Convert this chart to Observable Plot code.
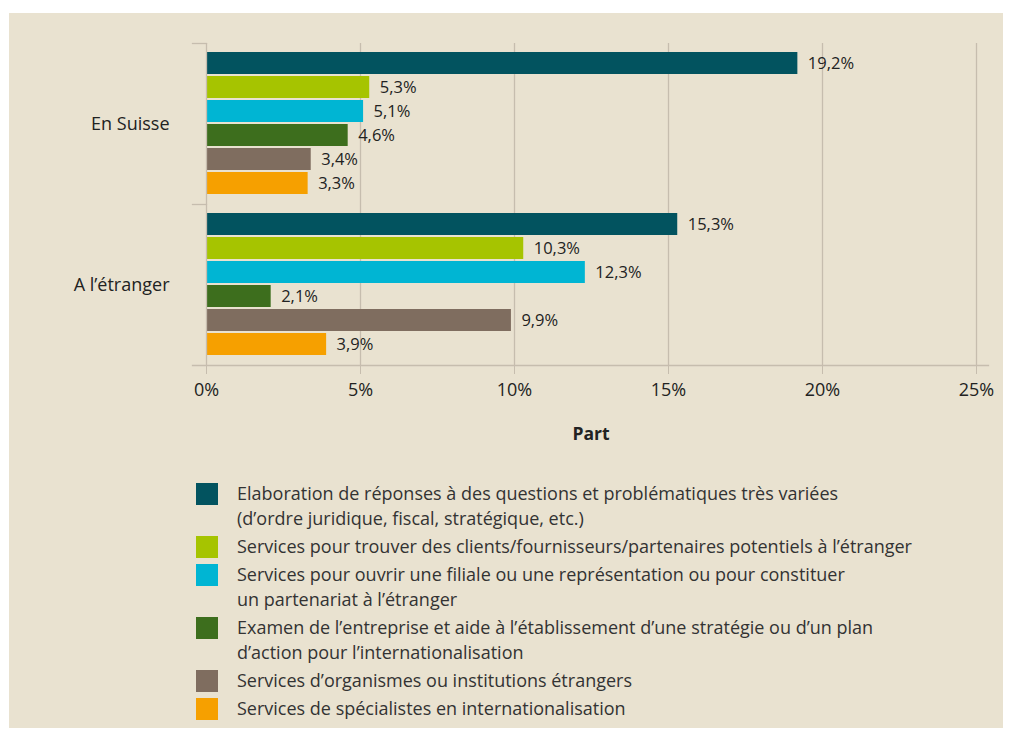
<!DOCTYPE html>
<html><head><meta charset="utf-8">
<script src="https://cdn.jsdelivr.net/npm/d3@7"></script>
<script src="https://cdn.jsdelivr.net/npm/@observablehq/plot@0.6"></script>
<style>
html,body{margin:0;padding:0;background:#fff;width:1014px;height:740px;overflow:hidden;font-family:"Open Sans",sans-serif;}
#panel{position:absolute;left:9px;top:13px;width:994px;height:715px;background:#e9e2d0;}
#chart{position:absolute;left:0;top:0;}
#xlabel{position:absolute;left:491px;width:200px;top:421px;text-align:center;font-weight:bold;font-size:17.5px;color:#222;}
#legend{position:absolute;left:196px;top:481px;color:#333;font-size:18px;line-height:25px;}
.item{display:flex;align-items:flex-start;margin-bottom:3px;}
.sw{width:22px;height:22px;flex:none;margin-right:19px;margin-top:2px;}
</style></head>
<body>
<div id="panel"></div>
<div id="chart"></div>
<div id="xlabel">Part</div>
<div id="legend"></div>
<script>
const groups = ["En Suisse", "A l\u2019étranger"];
const series = [
  "Elaboration de réponses à des questions et problématiques très variées<br>(d\u2019ordre juridique, fiscal, stratégique, etc.)",
  "Services pour trouver des clients/fournisseurs/partenaires potentiels à l\u2019étranger",
  "Services pour ouvrir une filiale ou une représentation ou pour constituer<br>un partenariat à l\u2019étranger",
  "Examen de l\u2019entreprise et aide à l\u2019établissement d\u2019une stratégie ou d\u2019un plan<br>d\u2019action pour l\u2019internationalisation",
  "Services d\u2019organismes ou institutions étrangers",
  "Services de spécialistes en internationalisation"
];
const colors = ["#02535f", "#a6c400", "#00b5d3", "#3d6e1d", "#7f6d5f", "#f6a000"];
const valuesSuisse = [19.2, 5.3, 5.1, 4.6, 3.4, 3.3];
const valuesEtranger = [15.3, 10.3, 12.3, 2.1, 9.9, 3.9];
const xTicks = [0, 5, 10, 15, 20, 25];

const seriesKeys = series.map((s, i) => "s" + i);
const data = [];
[valuesSuisse, valuesEtranger].forEach((vals, g) => {
  vals.forEach((v, i) => data.push({group: groups[g], series: seriesKeys[i], value: v}));
});
const fmt = v => v.toFixed(1).replace(".", ",") + "%";

const grid = "#c6bdae";
const chart = Plot.plot({
  width: 1014,
  height: 450,
  marginLeft: 206,
  marginRight: 38,
  marginTop: 43,
  marginBottom: 85,
  style: {fontFamily: "'Open Sans', sans-serif", background: "transparent", color: "#222"},
  x: {domain: [0, 25], axis: null},
  y: {domain: seriesKeys, padding: 0.08, insetTop: 7, insetBottom: 7, axis: null},
  fy: {domain: groups, padding: 0, axis: null},
  color: {domain: seriesKeys, range: colors},
  marks: [
    Plot.ruleX(xTicks.slice(1), {stroke: grid, strokeWidth: 1.3}),
    Plot.barX(data, {x: "value", y: "series", fy: "group", fill: "series"}),
    Plot.ruleX([0], {stroke: grid, strokeWidth: 1.3}),
    Plot.frame({anchor: "top", insetLeft: -14, insetRight: 770, stroke: grid, strokeWidth: 1.3}),
    Plot.frame({anchor: "bottom", facetAnchor: "bottom", insetLeft: -14, insetRight: -12, stroke: grid, strokeWidth: 1.3}),
    Plot.text(data, {x: "value", y: "series", fy: "group", text: d => fmt(d.value), textAnchor: "start", dx: 10, fontSize: 16.5, fill: "#222"}),
    Plot.axisFy({anchor: "left", tickSize: 0, tickPadding: 37, fontSize: 18, label: null}),
    Plot.axisX({ticks: xTicks, tickFormat: d => d + "%", tickSize: 9, tickPadding: 9, fontSize: 18, stroke: grid, label: null})
  ]
});
document.getElementById("chart").appendChild(chart);

const legend = document.getElementById("legend");
series.forEach((s, i) => {
  const item = document.createElement("div");
  item.className = "item";
  item.innerHTML = `<div class="sw" style="background:${colors[i]}"></div><div>${s}</div>`;
  legend.appendChild(item);
});
</script>
</body></html>
